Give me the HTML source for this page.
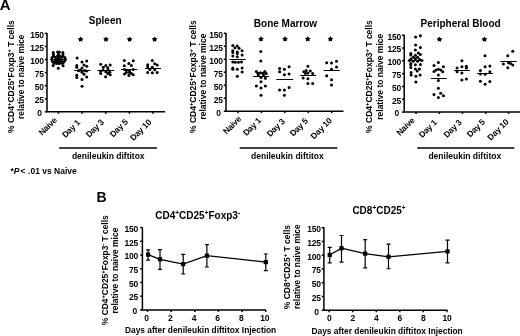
<!DOCTYPE html>
<html><head><meta charset="utf-8"><style>
html,body{margin:0;padding:0;background:#fff;}
svg{display:block;filter:blur(0.3px);}
text{font-family:"Liberation Sans", sans-serif;font-weight:bold;fill:#000;}
.big{font-size:14px;}
.ttl{font-size:10px;}
.ttl2{font-size:10px;}
.lab{font-size:8.5px;}
.tk{font-size:8.5px;letter-spacing:-0.25px;}
.ax{stroke:#000;stroke-width:1.5;fill:none;}
.br{stroke:#000;stroke-width:1.4;fill:none;}
.mn{stroke:#000;stroke-width:1;fill:none;}
.ln{stroke:#000;stroke-width:1.3;fill:none;}
.eb{stroke:#000;stroke-width:1.2;fill:none;}
</style></head><body>
<svg width="520" height="336" viewBox="0 0 520 336">
<text x="-0.3" y="10.4" class="big" style="font-size:15px">A</text>
<text x="96.4" y="202.4" class="big">B</text>
<path d="M47 33V111.8H165.2" class="ax"/>
<path d="M44.8 111.8H47" class="ax"/>
<text x="41.8" y="116.1" text-anchor="end" class="tk">0</text>
<path d="M44.8 98.73H47" class="ax"/>
<text x="43.8" y="103.03" text-anchor="end" class="tk">25</text>
<path d="M44.8 85.67H47" class="ax"/>
<text x="43.8" y="89.97" text-anchor="end" class="tk">50</text>
<path d="M44.8 72.6H47" class="ax"/>
<text x="43.8" y="76.9" text-anchor="end" class="tk">75</text>
<path d="M44.8 59.53H47" class="ax"/>
<text x="43.8" y="63.83" text-anchor="end" class="tk">100</text>
<path d="M44.8 46.47H47" class="ax"/>
<text x="43.8" y="50.77" text-anchor="end" class="tk">125</text>
<path d="M44.8 33.4H47" class="ax"/>
<text x="43.8" y="37.7" text-anchor="end" class="tk">150</text>
<path d="M58.5 111.8V113.8" class="ax"/>
<text transform="translate(57.3,120.8) rotate(-45)" text-anchor="end" class="tk">Naive</text>
<path d="M82 111.8V113.8" class="ax"/>
<text transform="translate(80.6,123.2) rotate(-45)" text-anchor="end" class="tk">Day 1</text>
<path d="M105.7 111.8V113.8" class="ax"/>
<text transform="translate(104.3,122.8) rotate(-45)" text-anchor="end" class="tk">Day 3</text>
<path d="M129.4 111.8V113.8" class="ax"/>
<text transform="translate(128.3,122.5) rotate(-45)" text-anchor="end" class="tk">Day 5</text>
<path d="M153 111.8V113.8" class="ax"/>
<text transform="translate(151.8,122.9) rotate(-45)" text-anchor="end" class="tk">Day 10</text>
<text x="88.8" y="24.4" class="ttl">Spleen</text>
<polygon points="80.60,36.40 81.57,38.07 83.45,38.47 82.17,39.91 82.36,41.83 80.60,41.05 78.84,41.83 79.03,39.91 77.75,38.47 79.63,38.07"/>
<polygon points="106.00,36.40 106.97,38.07 108.85,38.47 107.57,39.91 107.76,41.83 106.00,41.05 104.24,41.83 104.43,39.91 103.15,38.47 105.03,38.07"/>
<polygon points="129.60,36.40 130.57,38.07 132.45,38.47 131.17,39.91 131.36,41.83 129.60,41.05 127.84,41.83 128.03,39.91 126.75,38.47 128.63,38.07"/>
<polygon points="154.60,36.40 155.57,38.07 157.45,38.47 156.17,39.91 156.36,41.83 154.60,41.05 152.84,41.83 153.03,39.91 151.75,38.47 153.63,38.07"/>
<circle cx="53.3" cy="52.5" r="1.5"/>
<circle cx="53.4" cy="54.5" r="1.5"/>
<circle cx="53.8" cy="56.3" r="1.5"/>
<circle cx="57.6" cy="52" r="1.5"/>
<circle cx="59.4" cy="52" r="1.5"/>
<circle cx="58.5" cy="54" r="1.5"/>
<circle cx="57.5" cy="56" r="1.5"/>
<circle cx="59.5" cy="56" r="1.5"/>
<circle cx="62.8" cy="52.5" r="1.5"/>
<circle cx="63" cy="54.5" r="1.5"/>
<circle cx="62.5" cy="56.3" r="1.5"/>
<circle cx="52" cy="57.6" r="1.5"/>
<circle cx="55.5" cy="57.6" r="1.5"/>
<circle cx="58.5" cy="57.8" r="1.5"/>
<circle cx="61.5" cy="57.6" r="1.5"/>
<circle cx="64.8" cy="57.6" r="1.5"/>
<circle cx="51.8" cy="59.6" r="1.5"/>
<circle cx="58.2" cy="59.6" r="1.5"/>
<circle cx="65.4" cy="59.6" r="1.5"/>
<circle cx="56.5" cy="59.8" r="1.5"/>
<circle cx="60" cy="59.8" r="1.5"/>
<circle cx="52.5" cy="61.6" r="1.5"/>
<circle cx="57.3" cy="61.8" r="1.5"/>
<circle cx="59.3" cy="61.8" r="1.5"/>
<circle cx="64.3" cy="61.6" r="1.5"/>
<circle cx="55" cy="61.5" r="1.5"/>
<circle cx="61.8" cy="61.5" r="1.5"/>
<circle cx="54" cy="63.2" r="1.5"/>
<circle cx="56.5" cy="63.4" r="1.5"/>
<circle cx="59" cy="63.4" r="1.5"/>
<circle cx="61.5" cy="63.3" r="1.5"/>
<circle cx="63" cy="63" r="1.5"/>
<circle cx="53.1" cy="65.4" r="1.5"/>
<circle cx="63.1" cy="65.8" r="1.5"/>
<circle cx="58.3" cy="68.2" r="1.5"/>
<circle cx="77.1" cy="58.1" r="1.5"/>
<circle cx="82" cy="62.1" r="1.5"/>
<circle cx="86.7" cy="60.9" r="1.5"/>
<circle cx="76.8" cy="65.4" r="1.5"/>
<circle cx="76.8" cy="67.2" r="1.5"/>
<circle cx="84" cy="64.9" r="1.5"/>
<circle cx="86.7" cy="66.2" r="1.5"/>
<circle cx="82" cy="68" r="1.5"/>
<circle cx="80.4" cy="70.1" r="1.5"/>
<circle cx="82" cy="72.2" r="1.5"/>
<circle cx="84.5" cy="70.5" r="1.5"/>
<circle cx="78.5" cy="70.8" r="1.5"/>
<circle cx="86.5" cy="71" r="1.5"/>
<circle cx="76.8" cy="75.3" r="1.5"/>
<circle cx="76.8" cy="77.4" r="1.5"/>
<circle cx="84" cy="74.3" r="1.5"/>
<circle cx="86.7" cy="77.1" r="1.5"/>
<circle cx="82" cy="79.5" r="1.5"/>
<circle cx="82" cy="86.25" r="1.5"/>
<circle cx="100.7" cy="64.3" r="1.5"/>
<circle cx="103.3" cy="67.2" r="1.5"/>
<circle cx="105.8" cy="65.6" r="1.5"/>
<circle cx="110.2" cy="65.1" r="1.5"/>
<circle cx="107.8" cy="67.7" r="1.5"/>
<circle cx="100.7" cy="71.2" r="1.5"/>
<circle cx="100.7" cy="73.4" r="1.5"/>
<circle cx="105.8" cy="71.7" r="1.5"/>
<circle cx="109.7" cy="72.2" r="1.5"/>
<circle cx="107.8" cy="73.5" r="1.5"/>
<circle cx="110.2" cy="74.8" r="1.5"/>
<circle cx="105.6" cy="76.8" r="1.5"/>
<circle cx="103" cy="70" r="1.5"/>
<circle cx="108" cy="70" r="1.5"/>
<circle cx="124.3" cy="60.4" r="1.5"/>
<circle cx="133.3" cy="60.7" r="1.5"/>
<circle cx="128.9" cy="63.6" r="1.5"/>
<circle cx="131.4" cy="65.6" r="1.5"/>
<circle cx="124.3" cy="65.8" r="1.5"/>
<circle cx="124.5" cy="69.5" r="1.5"/>
<circle cx="126.4" cy="70.3" r="1.5"/>
<circle cx="129.5" cy="70.7" r="1.5"/>
<circle cx="133.3" cy="69.5" r="1.5"/>
<circle cx="126.4" cy="72.6" r="1.5"/>
<circle cx="124.5" cy="74.1" r="1.5"/>
<circle cx="128.9" cy="75.6" r="1.5"/>
<circle cx="133.3" cy="74.8" r="1.5"/>
<circle cx="131.4" cy="73.5" r="1.5"/>
<circle cx="129.5" cy="72.5" r="1.5"/>
<circle cx="152.3" cy="60.4" r="1.5"/>
<circle cx="154.7" cy="63.8" r="1.5"/>
<circle cx="157.2" cy="65" r="1.5"/>
<circle cx="147.7" cy="64.8" r="1.5"/>
<circle cx="147.7" cy="66.7" r="1.5"/>
<circle cx="152.3" cy="67.2" r="1.5"/>
<circle cx="149.8" cy="69.5" r="1.5"/>
<circle cx="154.7" cy="69.7" r="1.5"/>
<circle cx="147.7" cy="72.5" r="1.5"/>
<circle cx="152.3" cy="72.8" r="1.5"/>
<circle cx="157.2" cy="72.6" r="1.5"/>
<path d="M50.4 59.5H66.8" class="mn"/>
<path d="M74.2 70.5H90.3" class="mn"/>
<path d="M97.4 70.5H114.2" class="mn"/>
<path d="M121 69.5H137.3" class="mn"/>
<path d="M144.9 68.5H161" class="mn"/>
<text transform="translate(14.2,76.6) rotate(-90)" text-anchor="middle" class="lab">% CD4<tspan baseline-shift="3.4" font-size="5.8">+</tspan>CD25<tspan baseline-shift="3.4" font-size="5.8">+</tspan>Foxp3<tspan baseline-shift="3.4" font-size="5.8">+</tspan> T cells</text><text transform="translate(24.4,76.7) rotate(-90)" text-anchor="middle" class="lab" style="font-size:8.35px">relative to naive mice</text>
<path d="M59.2 148H157" class="br"/>
<text x="108.25" y="159.1" text-anchor="middle" class="lab">denileukin diftitox</text>
<path d="M226 32.9V111.2H343.5" class="ax"/>
<path d="M223.8 111.2H226" class="ax"/>
<text x="220.8" y="115.5" text-anchor="end" class="tk">0</text>
<path d="M223.8 98.22H226" class="ax"/>
<text x="222.8" y="102.52" text-anchor="end" class="tk">25</text>
<path d="M223.8 85.23H226" class="ax"/>
<text x="222.8" y="89.53" text-anchor="end" class="tk">50</text>
<path d="M223.8 72.25H226" class="ax"/>
<text x="222.8" y="76.55" text-anchor="end" class="tk">75</text>
<path d="M223.8 59.27H226" class="ax"/>
<text x="222.8" y="63.57" text-anchor="end" class="tk">100</text>
<path d="M223.8 46.28H226" class="ax"/>
<text x="222.8" y="50.58" text-anchor="end" class="tk">125</text>
<path d="M223.8 33.3H226" class="ax"/>
<text x="222.8" y="37.6" text-anchor="end" class="tk">150</text>
<path d="M238 111.2V113.2" class="ax"/>
<text transform="translate(241.7,119.7) rotate(-45)" text-anchor="end" class="tk">Naive</text>
<path d="M261.4 111.2V113.2" class="ax"/>
<text transform="translate(261.6,121.2) rotate(-45)" text-anchor="end" class="tk">Day 1</text>
<path d="M284.7 111.2V113.2" class="ax"/>
<text transform="translate(285.3,122.1) rotate(-45)" text-anchor="end" class="tk">Day 3</text>
<path d="M308.3 111.2V113.2" class="ax"/>
<text transform="translate(308.4,121.7) rotate(-45)" text-anchor="end" class="tk">Day 5</text>
<path d="M331.8 111.2V113.2" class="ax"/>
<text transform="translate(332.4,121.3) rotate(-45)" text-anchor="end" class="tk">Day 10</text>
<text x="253.8" y="26.8" class="ttl">Bone Marrow</text>
<polygon points="261.00,36.10 261.97,37.77 263.85,38.17 262.57,39.61 262.76,41.53 261.00,40.75 259.24,41.53 259.43,39.61 258.15,38.17 260.03,37.77"/>
<polygon points="285.10,36.10 286.07,37.77 287.95,38.17 286.67,39.61 286.86,41.53 285.10,40.75 283.34,41.53 283.53,39.61 282.25,38.17 284.13,37.77"/>
<polygon points="307.80,36.10 308.77,37.77 310.65,38.17 309.37,39.61 309.56,41.53 307.80,40.75 306.04,41.53 306.23,39.61 304.95,38.17 306.83,37.77"/>
<polygon points="330.40,36.10 331.37,37.77 333.25,38.17 331.97,39.61 332.16,41.53 330.40,40.75 328.64,41.53 328.83,39.61 327.55,38.17 329.43,37.77"/>
<circle cx="232.8" cy="45.4" r="1.5"/>
<circle cx="237.3" cy="46" r="1.5"/>
<circle cx="234.9" cy="47.7" r="1.5"/>
<circle cx="239.1" cy="48.3" r="1.5"/>
<circle cx="242.1" cy="50.7" r="1.5"/>
<circle cx="232.8" cy="50.7" r="1.5"/>
<circle cx="232.8" cy="52.5" r="1.5"/>
<circle cx="237.3" cy="51.9" r="1.5"/>
<circle cx="237.3" cy="53.5" r="1.5"/>
<circle cx="232.8" cy="56" r="1.5"/>
<circle cx="237.3" cy="56.7" r="1.5"/>
<circle cx="242.1" cy="54.9" r="1.5"/>
<circle cx="232.8" cy="62" r="1.5"/>
<circle cx="235.3" cy="62.3" r="1.5"/>
<circle cx="238.5" cy="62.3" r="1.5"/>
<circle cx="241.5" cy="62" r="1.5"/>
<circle cx="232.8" cy="68" r="1.5"/>
<circle cx="232.8" cy="69.3" r="1.5"/>
<circle cx="237.3" cy="69.2" r="1.5"/>
<circle cx="242.1" cy="68" r="1.5"/>
<circle cx="242.1" cy="72.1" r="1.5"/>
<circle cx="237.3" cy="76.3" r="1.5"/>
<circle cx="260.8" cy="51.6" r="1.5"/>
<circle cx="260.8" cy="61.1" r="1.5"/>
<circle cx="256.3" cy="71.5" r="1.5"/>
<circle cx="258" cy="73.2" r="1.5"/>
<circle cx="260.5" cy="72.8" r="1.5"/>
<circle cx="263" cy="73.2" r="1.5"/>
<circle cx="264.8" cy="71.5" r="1.5"/>
<circle cx="266.2" cy="73.6" r="1.5"/>
<circle cx="258.3" cy="74.8" r="1.5"/>
<circle cx="263.5" cy="75" r="1.5"/>
<circle cx="261" cy="77.6" r="1.5"/>
<circle cx="265.4" cy="78.2" r="1.5"/>
<circle cx="261" cy="81.7" r="1.5"/>
<circle cx="256.3" cy="86" r="1.5"/>
<circle cx="265.4" cy="86" r="1.5"/>
<circle cx="261" cy="88.1" r="1.5"/>
<circle cx="261" cy="95.2" r="1.5"/>
<circle cx="279.6" cy="68.4" r="1.5"/>
<circle cx="284.4" cy="69.3" r="1.5"/>
<circle cx="289.1" cy="66.8" r="1.5"/>
<circle cx="279.6" cy="71.7" r="1.5"/>
<circle cx="284.4" cy="74.8" r="1.5"/>
<circle cx="289.1" cy="74.1" r="1.5"/>
<circle cx="279.6" cy="90.1" r="1.5"/>
<circle cx="284.4" cy="90.1" r="1.5"/>
<circle cx="289.1" cy="87.5" r="1.5"/>
<circle cx="284.4" cy="95.2" r="1.5"/>
<circle cx="307.9" cy="66.3" r="1.5"/>
<circle cx="303.7" cy="71.7" r="1.5"/>
<circle cx="306.1" cy="70.5" r="1.5"/>
<circle cx="307.9" cy="72.9" r="1.5"/>
<circle cx="310.3" cy="71.1" r="1.5"/>
<circle cx="312.7" cy="73.5" r="1.5"/>
<circle cx="305.5" cy="73.5" r="1.5"/>
<circle cx="303.1" cy="77.9" r="1.5"/>
<circle cx="307.9" cy="78.8" r="1.5"/>
<circle cx="307.9" cy="83.6" r="1.5"/>
<circle cx="312.7" cy="83.6" r="1.5"/>
<circle cx="326.7" cy="62.7" r="1.5"/>
<circle cx="331.5" cy="63.1" r="1.5"/>
<circle cx="336.5" cy="61.2" r="1.5"/>
<circle cx="336.5" cy="66.9" r="1.5"/>
<circle cx="331.5" cy="69.3" r="1.5"/>
<circle cx="326.7" cy="75.8" r="1.5"/>
<circle cx="331.5" cy="79.8" r="1.5"/>
<circle cx="331.5" cy="85" r="1.5"/>
<path d="M229.6 59.5H245.6" class="mn"/>
<path d="M253 76.5H269.2" class="mn"/>
<path d="M276.3 79.5H293.2" class="mn"/>
<path d="M300.2 75.5H316.2" class="mn"/>
<path d="M323.6 70.5H339.8" class="mn"/>
<text transform="translate(195.8,76.65) rotate(-90)" text-anchor="middle" class="lab">% CD4<tspan baseline-shift="3.4" font-size="5.8">+</tspan>CD25<tspan baseline-shift="3.4" font-size="5.8">+</tspan>Foxp3<tspan baseline-shift="3.4" font-size="5.8">+</tspan> T cells</text><text transform="translate(205.9,76.6) rotate(-90)" text-anchor="middle" class="lab" style="font-size:8.5px">relative to naive mice</text>
<path d="M239.7 148H337.4" class="br"/>
<text x="287.4" y="159.1" text-anchor="middle" class="lab">denileukin diftitox</text>
<path d="M404.2 34.8V112.1H521" class="ax"/>
<path d="M402 112.1H404.2" class="ax"/>
<text x="399" y="116.4" text-anchor="end" class="tk">0</text>
<path d="M402 99.28H404.2" class="ax"/>
<text x="401" y="103.58" text-anchor="end" class="tk">25</text>
<path d="M402 86.47H404.2" class="ax"/>
<text x="401" y="90.77" text-anchor="end" class="tk">50</text>
<path d="M402 73.65H404.2" class="ax"/>
<text x="401" y="77.95" text-anchor="end" class="tk">75</text>
<path d="M402 60.83H404.2" class="ax"/>
<text x="401" y="65.13" text-anchor="end" class="tk">100</text>
<path d="M402 48.02H404.2" class="ax"/>
<text x="401" y="52.32" text-anchor="end" class="tk">125</text>
<path d="M402 35.2H404.2" class="ax"/>
<text x="401" y="39.5" text-anchor="end" class="tk">150</text>
<path d="M416 112.1V114.1" class="ax"/>
<text transform="translate(415.1,121) rotate(-45)" text-anchor="end" class="tk">Naive</text>
<path d="M439.4 112.1V114.1" class="ax"/>
<text transform="translate(437.4,123.1) rotate(-45)" text-anchor="end" class="tk">Day 1</text>
<path d="M462.5 112.1V114.1" class="ax"/>
<text transform="translate(462.1,123) rotate(-45)" text-anchor="end" class="tk">Day 3</text>
<path d="M485.7 112.1V114.1" class="ax"/>
<text transform="translate(485.5,122.6) rotate(-45)" text-anchor="end" class="tk">Day 5</text>
<path d="M508.6 112.1V114.1" class="ax"/>
<text transform="translate(509.2,122.6) rotate(-45)" text-anchor="end" class="tk">Day 10</text>
<text x="420.6" y="26.8" class="ttl">Peripheral Blood</text>
<polygon points="439.50,36.40 440.47,38.07 442.35,38.47 441.07,39.91 441.26,41.83 439.50,41.05 437.74,41.83 437.93,39.91 436.65,38.47 438.53,38.07"/>
<polygon points="484.40,36.40 485.37,38.07 487.25,38.47 485.97,39.91 486.16,41.83 484.40,41.05 482.64,41.83 482.83,39.91 481.55,38.47 483.43,38.07"/>
<circle cx="415.6" cy="37.1" r="1.5"/>
<circle cx="420.4" cy="35.7" r="1.5"/>
<circle cx="415.6" cy="44.9" r="1.5"/>
<circle cx="420.4" cy="47.6" r="1.5"/>
<circle cx="415.4" cy="50.1" r="1.5"/>
<circle cx="410.8" cy="53.4" r="1.5"/>
<circle cx="410.8" cy="54.9" r="1.5"/>
<circle cx="418.3" cy="53" r="1.5"/>
<circle cx="420.4" cy="54.6" r="1.5"/>
<circle cx="415.4" cy="55.2" r="1.5"/>
<circle cx="413.3" cy="57.3" r="1.5"/>
<circle cx="417.6" cy="57.3" r="1.5"/>
<circle cx="411.1" cy="59.1" r="1.5"/>
<circle cx="415.4" cy="58.7" r="1.5"/>
<circle cx="419.5" cy="59.4" r="1.5"/>
<circle cx="409.3" cy="60.6" r="1.5"/>
<circle cx="421.6" cy="60.6" r="1.5"/>
<circle cx="413.3" cy="61.2" r="1.5"/>
<circle cx="417.6" cy="61.2" r="1.5"/>
<circle cx="410.8" cy="63.4" r="1.5"/>
<circle cx="410.8" cy="64.9" r="1.5"/>
<circle cx="415.4" cy="64.8" r="1.5"/>
<circle cx="420.4" cy="64.4" r="1.5"/>
<circle cx="410.8" cy="67.6" r="1.5"/>
<circle cx="415.4" cy="69.1" r="1.5"/>
<circle cx="419.4" cy="69.1" r="1.5"/>
<circle cx="417.2" cy="70.9" r="1.5"/>
<circle cx="411.1" cy="72.6" r="1.5"/>
<circle cx="411.1" cy="75" r="1.5"/>
<circle cx="415.9" cy="76.2" r="1.5"/>
<circle cx="420.1" cy="75" r="1.5"/>
<circle cx="415.9" cy="82.1" r="1.5"/>
<circle cx="438.4" cy="62.4" r="1.5"/>
<circle cx="434" cy="65.4" r="1.5"/>
<circle cx="443.4" cy="66.8" r="1.5"/>
<circle cx="434" cy="71.5" r="1.5"/>
<circle cx="436" cy="70" r="1.5"/>
<circle cx="438.4" cy="69.3" r="1.5"/>
<circle cx="440.8" cy="70" r="1.5"/>
<circle cx="442.8" cy="71.8" r="1.5"/>
<circle cx="438.4" cy="75.1" r="1.5"/>
<circle cx="438.4" cy="80.4" r="1.5"/>
<circle cx="438.4" cy="88.2" r="1.5"/>
<circle cx="434" cy="94.5" r="1.5"/>
<circle cx="440.7" cy="93.2" r="1.5"/>
<circle cx="443.4" cy="95.8" r="1.5"/>
<circle cx="438.4" cy="97.6" r="1.5"/>
<circle cx="461.9" cy="60.7" r="1.5"/>
<circle cx="461.9" cy="66.7" r="1.5"/>
<circle cx="466.4" cy="66.3" r="1.5"/>
<circle cx="457.1" cy="68.1" r="1.5"/>
<circle cx="466.4" cy="68.1" r="1.5"/>
<circle cx="457.1" cy="71.7" r="1.5"/>
<circle cx="461.9" cy="72.9" r="1.5"/>
<circle cx="461.9" cy="80" r="1.5"/>
<circle cx="466.4" cy="79" r="1.5"/>
<circle cx="485" cy="55.7" r="1.5"/>
<circle cx="485.1" cy="66.7" r="1.5"/>
<circle cx="489.9" cy="65.9" r="1.5"/>
<circle cx="480.4" cy="70.6" r="1.5"/>
<circle cx="489.9" cy="71.7" r="1.5"/>
<circle cx="480.4" cy="74" r="1.5"/>
<circle cx="485.1" cy="74.3" r="1.5"/>
<circle cx="480.4" cy="81.2" r="1.5"/>
<circle cx="489.9" cy="81.4" r="1.5"/>
<circle cx="485.1" cy="84.2" r="1.5"/>
<circle cx="512.8" cy="51.2" r="1.5"/>
<circle cx="507.8" cy="55.7" r="1.5"/>
<circle cx="503.4" cy="64.1" r="1.5"/>
<circle cx="508.5" cy="62.8" r="1.5"/>
<circle cx="510.5" cy="63.5" r="1.5"/>
<circle cx="512.8" cy="65.1" r="1.5"/>
<circle cx="507.8" cy="67.8" r="1.5"/>
<path d="M408.5 60.5H423.6" class="mn"/>
<path d="M431 78.5H446.7" class="mn"/>
<path d="M454.2 70.5H470" class="mn"/>
<path d="M477.1 73.5H492.9" class="mn"/>
<path d="M500.4 61.5H516.5" class="mn"/>
<text transform="translate(372.1,76.55) rotate(-90)" text-anchor="middle" class="lab">% CD4<tspan baseline-shift="3.4" font-size="5.8">+</tspan>CD25<tspan baseline-shift="3.4" font-size="5.8">+</tspan>Foxp3<tspan baseline-shift="3.4" font-size="5.8">+</tspan> T cells</text><text transform="translate(383.3,76.75) rotate(-90)" text-anchor="middle" class="lab" style="font-size:8.5px">relative to naive mice</text>
<path d="M417.3 148H514.3" class="br"/>
<text x="464.8" y="159.1" text-anchor="middle" class="lab">denileukin diftitox</text>
<text x="10.4" y="173.8" class="lab">*<tspan font-style="italic">P</tspan><tspan dx="1.1">&lt;</tspan><tspan dx="0.3"> .01 vs Naive</tspan></text>
<path d="M142.4 227.2V309.9H265.9" class="ax"/>
<path d="M140.2 309.9H142.4" class="ax"/>
<text x="137.1" y="314.2" text-anchor="end" class="tk">0</text>
<path d="M140.2 296.18H142.4" class="ax"/>
<text x="138" y="300.48" text-anchor="end" class="tk">25</text>
<path d="M140.2 282.47H142.4" class="ax"/>
<text x="138" y="286.77" text-anchor="end" class="tk">50</text>
<path d="M140.2 268.75H142.4" class="ax"/>
<text x="138" y="273.05" text-anchor="end" class="tk">75</text>
<path d="M140.2 255.03H142.4" class="ax"/>
<text x="138" y="259.33" text-anchor="end" class="tk">100</text>
<path d="M140.2 241.32H142.4" class="ax"/>
<text x="138" y="245.62" text-anchor="end" class="tk">125</text>
<path d="M140.2 227.6H142.4" class="ax"/>
<text x="138" y="231.9" text-anchor="end" class="tk">150</text>
<path d="M147.5 309.9V311.9" class="ax"/>
<text x="146.6" y="320.9" text-anchor="middle" class="tk">0</text>
<path d="M171.14 309.9V311.9" class="ax"/>
<text x="170.24" y="320.9" text-anchor="middle" class="tk">2</text>
<path d="M194.78 309.9V311.9" class="ax"/>
<text x="193.88" y="320.9" text-anchor="middle" class="tk">4</text>
<path d="M218.42 309.9V311.9" class="ax"/>
<text x="217.52" y="320.9" text-anchor="middle" class="tk">6</text>
<path d="M242.06 309.9V311.9" class="ax"/>
<text x="241.16" y="320.9" text-anchor="middle" class="tk">8</text>
<path d="M265.7 309.9V311.9" class="ax"/>
<text x="264.8" y="320.9" text-anchor="middle" class="tk">10</text>
<polyline points="148.1,254.6 160,259.3 183.2,264.1 206.9,255.7 265.8,262.1" class="ln"/>
<path d="M148.1 249.9V260.1M146.1 249.9H150.1M146.1 260.1H150.1" class="eb"/>
<rect x="146" y="252.5" width="4.2" height="4.2"/>
<path d="M160 249.6V269.4M158 249.6H162M158 269.4H162" class="eb"/>
<rect x="157.9" y="257.2" width="4.2" height="4.2"/>
<path d="M183.2 254.4V274M181.2 254.4H185.2M181.2 274H185.2" class="eb"/>
<rect x="181.1" y="262" width="4.2" height="4.2"/>
<path d="M206.9 244.7V267M204.9 244.7H208.9M204.9 267H208.9" class="eb"/>
<rect x="204.8" y="253.6" width="4.2" height="4.2"/>
<path d="M265.8 254V270.7M263.8 254H267.8M263.8 270.7H267.8" class="eb"/>
<rect x="263.7" y="260" width="4.2" height="4.2"/>
<text x="155.3" y="218.5" class="ttl2">CD4<tspan baseline-shift="3.9" font-size="6.5">+</tspan>CD25<tspan baseline-shift="3.9" font-size="6.5">+</tspan>Foxp3<tspan baseline-shift="3.9" font-size="6.5">-</tspan></text>
<text transform="translate(107.9,270.2) rotate(-90)" text-anchor="middle" class="lab" style="font-size:8.4px">% CD4<tspan baseline-shift="3.4" font-size="5.8">+</tspan>CD25<tspan baseline-shift="3.4" font-size="5.8">+</tspan>Foxp3<tspan baseline-shift="3.4" font-size="5.8">-</tspan> T cells</text>
<text transform="translate(117.5,270.6) rotate(-90)" text-anchor="middle" class="lab" style="font-size:8.5px">relative to naive mice</text>
<text x="125" y="332.7" class="lab" style="font-size:8.4px">Days after denileukin diftitox Injection</text>
<path d="M323.9 227.3V310.3H447.6" class="ax"/>
<path d="M321.7 310.3H323.9" class="ax"/>
<text x="318.7" y="314.6" text-anchor="end" class="tk">0</text>
<path d="M321.7 296.53H323.9" class="ax"/>
<text x="320.7" y="300.83" text-anchor="end" class="tk">25</text>
<path d="M321.7 282.77H323.9" class="ax"/>
<text x="320.7" y="287.07" text-anchor="end" class="tk">50</text>
<path d="M321.7 269H323.9" class="ax"/>
<text x="320.7" y="273.3" text-anchor="end" class="tk">75</text>
<path d="M321.7 255.23H323.9" class="ax"/>
<text x="320.7" y="259.53" text-anchor="end" class="tk">100</text>
<path d="M321.7 241.47H323.9" class="ax"/>
<text x="320.7" y="245.77" text-anchor="end" class="tk">125</text>
<path d="M321.7 227.7H323.9" class="ax"/>
<text x="320.7" y="232" text-anchor="end" class="tk">150</text>
<path d="M329.2 310.3V312.3" class="ax"/>
<text x="329.2" y="321.3" text-anchor="middle" class="tk">0</text>
<path d="M352.74 310.3V312.3" class="ax"/>
<text x="352.74" y="321.3" text-anchor="middle" class="tk">2</text>
<path d="M376.28 310.3V312.3" class="ax"/>
<text x="376.28" y="321.3" text-anchor="middle" class="tk">4</text>
<path d="M399.82 310.3V312.3" class="ax"/>
<text x="399.82" y="321.3" text-anchor="middle" class="tk">6</text>
<path d="M423.36 310.3V312.3" class="ax"/>
<text x="423.36" y="321.3" text-anchor="middle" class="tk">8</text>
<path d="M446.9 310.3V312.3" class="ax"/>
<text x="446.9" y="321.3" text-anchor="middle" class="tk">10</text>
<polyline points="329.7,255 341.5,248.2 365.2,253.6 388.5,256.8 447.5,251.4" class="ln"/>
<path d="M329.7 247.3V262.9M327.7 247.3H331.7M327.7 262.9H331.7" class="eb"/>
<rect x="327.6" y="252.9" width="4.2" height="4.2"/>
<path d="M341.5 235.5V262.1M339.5 235.5H343.5M339.5 262.1H343.5" class="eb"/>
<rect x="339.4" y="246.1" width="4.2" height="4.2"/>
<path d="M365.2 239.6V267.9M363.2 239.6H367.2M363.2 267.9H367.2" class="eb"/>
<rect x="363.1" y="251.5" width="4.2" height="4.2"/>
<path d="M388.5 244.2V268.75M386.5 244.2H390.5M386.5 268.75H390.5" class="eb"/>
<rect x="386.4" y="254.7" width="4.2" height="4.2"/>
<path d="M447.5 240.2V262.9M445.5 240.2H449.5M445.5 262.9H449.5" class="eb"/>
<rect x="445.4" y="249.3" width="4.2" height="4.2"/>
<text x="352.4" y="213.7" class="ttl2">CD8<tspan baseline-shift="3.9" font-size="6.5">+</tspan>CD25<tspan baseline-shift="3.9" font-size="6.5">+</tspan></text>
<text transform="translate(289.6,267.15) rotate(-90)" text-anchor="middle" class="lab" style="font-size:8.5px">% CD8<tspan baseline-shift="3.4" font-size="5.8">+</tspan>CD25<tspan baseline-shift="3.4" font-size="5.8">+</tspan> T cells</text>
<text transform="translate(299.6,266.7) rotate(-90)" text-anchor="middle" class="lab" style="font-size:8.4px">relative to naive mice</text>
<text x="311.5" y="333.6" class="lab" style="font-size:8.4px">Days after denileukin diftitox Injection</text>
</svg>
</body></html>
